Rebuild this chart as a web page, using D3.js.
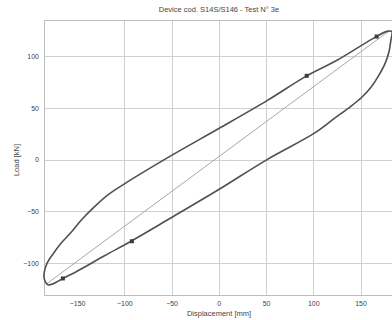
<!DOCTYPE html>
<html>
<head>
<meta charset="utf-8">
<script src="https://cdn.jsdelivr.net/npm/d3@7/dist/d3.min.js"></script>
<style>
  html, body { margin: 0; padding: 0; background: #fff; }
  svg { display: block; font-family: "Liberation Sans", Arial, sans-serif; }
</style>
</head>
<body>
<svg id="chart" width="392" height="320"></svg>
<script>
// Hysteresis loop: load vs displacement
const titleText = "Device cod. S14S/S146 - Test N° 3e";
const xTitle = "Displacement [mm]";
const yTitle = "Load [kN]";

const xTicks = [-150, -100, -50, 0, 50, 100, 150];
const yTicks = [-100, -50, 0, 50, 100];
const xGrid = [-100, -50, 0, 50, 100, 150];
const yGrid = [-100, -50, 0, 50, 100];

// loading branch (bottom-left peak -> top-right peak)
const upperX = [-181, -185, -184, -181, -176, -167, -156, -145, -132, -117, -99, -50, 0, 51, 93, 125, 163, 178];
const upperY = [-121, -114, -106, -99, -92, -81, -70, -58, -46, -34, -23, 4, 30, 57, 81, 96, 117, 124];
// unloading branch (top-right peak -> bottom-left peak)
const lowerX = [183, 182, 180, 176, 169, 161, 151, 139, 124, 102, 51, 0, -50, -93, -121, -150, -165, -175];
const lowerY = [124, 115, 104, 93, 81, 70, 60, 51, 41, 26, 0, -29, -56, -79, -93, -108, -115, -120];

// reference (secant) line between the two peaks
const refX = [-182, 181];
const refY = [-120, 125];

// cycle markers
const markerX = [-165, -92, 93, 167];
const markerY = [-115, -79, 81, 119];

const svg = d3.select("#chart");
const m = { left: 44, top: 20, bottom: 295 };

const x = d3.scaleLinear().domain([-185, 190]).range([m.left, m.left + 375 * 0.945]);
const y = d3.scaleLinear().domain([-131, 135]).range([m.bottom, m.top]);

const gridColor = "#cfcfcf";
const textColor = "#444";

// grid
svg.append("g").selectAll("line.gx").data(xGrid).join("line")
  .attr("x1", d => Math.round(x(d)) + 0.5).attr("x2", d => Math.round(x(d)) + 0.5)
  .attr("y1", m.top).attr("y2", m.bottom)
  .attr("stroke", gridColor).attr("stroke-width", 1);
svg.append("g").selectAll("line.gy").data(yGrid).join("line")
  .attr("y1", d => Math.round(y(d)) + 0.5).attr("y2", d => Math.round(y(d)) + 0.5)
  .attr("x1", m.left).attr("x2", 392)
  .attr("stroke", gridColor).attr("stroke-width", 1);

// frame (left, top, bottom)
svg.append("path")
  .attr("d", `M392,${m.top + 0.5}H${m.left + 0.5}V${m.bottom + 0.5}H392`)
  .attr("fill", "none").attr("stroke", "#bdbdbd").attr("stroke-width", 1);

// axes
const xAxis = svg.append("g").attr("transform", `translate(0,${m.bottom})`)
  .call(d3.axisBottom(x).tickValues(xTicks).tickSize(0).tickPadding(6).tickFormat(d3.format("d")));
const yAxis = svg.append("g").attr("transform", `translate(${m.left},0)`)
  .call(d3.axisLeft(y).tickValues(yTicks).tickSize(0).tickPadding(5).tickFormat(d3.format("d")));
[xAxis, yAxis].forEach(a => {
  a.select(".domain").remove();
  a.selectAll("text").attr("fill", textColor).style("font-size", "7px");
});

// titles
svg.append("text").attr("x", 219).attr("y", 12).attr("text-anchor", "middle")
  .attr("fill", textColor).style("font-size", "7.5px").text(titleText);
svg.append("text").attr("x", 219).attr("y", 316).attr("text-anchor", "middle")
  .attr("fill", textColor).style("font-size", "7.5px").text(xTitle);
svg.append("text").attr("transform", "translate(19,160) rotate(-90)").attr("text-anchor", "middle")
  .attr("fill", textColor).style("font-size", "7.5px").text(yTitle);

// reference line
svg.append("line")
  .attr("x1", x(refX[0])).attr("y1", y(refY[0]))
  .attr("x2", x(refX[1])).attr("y2", y(refY[1]))
  .attr("stroke", "#a8a8a8").attr("stroke-width", 1);

// loop
const loopPts = upperX.map((d, i) => [d, upperY[i]])
  .concat(lowerX.map((d, i) => [d, lowerY[i]]));
const line = d3.line().x(d => x(d[0])).y(d => y(d[1])).curve(d3.curveCatmullRomClosed.alpha(0.5));
svg.append("path").datum(loopPts)
  .attr("d", line)
  .attr("fill", "none").attr("stroke", "#505050").attr("stroke-width", 1.6);

// markers
svg.append("g").selectAll("rect").data(markerX.map((d, i) => [d, markerY[i]])).join("rect")
  .attr("x", d => x(d[0]) - 2).attr("y", d => y(d[1]) - 2)
  .attr("width", 4).attr("height", 4)
  .attr("fill", "#3c3c3c");
</script>
</body>
</html>
